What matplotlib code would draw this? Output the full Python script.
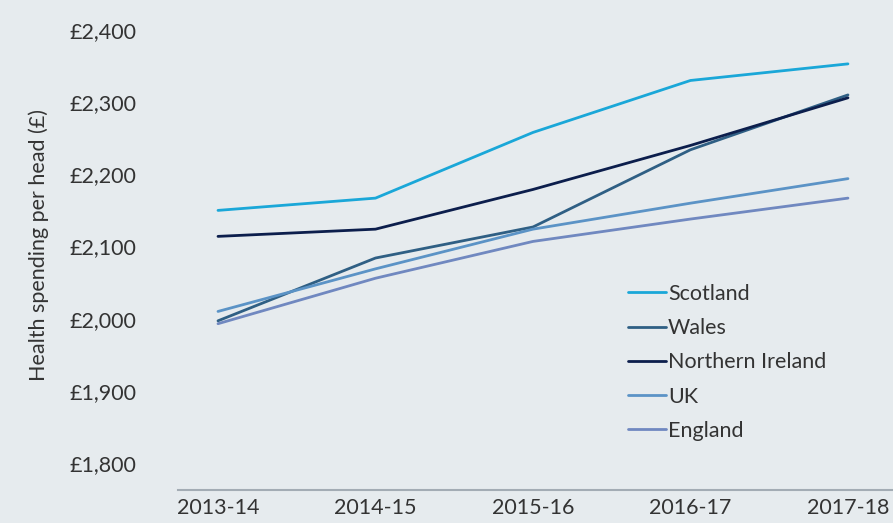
# Health spending per head across UK nations, 2013-14 to 2017-18

import matplotlib.pyplot as plt
from matplotlib.ticker import FuncFormatter

years = ["2013-14", "2014-15", "2015-16", "2016-17", "2017-18"]

scotland = [2150, 2167, 2258, 2330, 2353]
wales = [1997, 2084, 2127, 2234, 2310]
northern_ireland = [2114, 2124, 2179, 2240, 2306]
uk = [2010, 2069, 2124, 2160, 2194]
england = [1993, 2056, 2107, 2138, 2167]

series = [
    ("Scotland", scotland, "#1aa7d8"),
    ("Wales", wales, "#2f5f84"),
    ("Northern Ireland", northern_ireland, "#0c1e4c"),
    ("UK", uk, "#5b93c6"),
    ("England", england, "#7088c0"),
]

plt.rcParams["font.family"] = ["Lato", "DejaVu Sans"]
bg = "#e6ebee"
txt = "#333333"

fig = plt.figure(figsize=(8.93, 5.23), dpi=100, facecolor=bg)
ax = fig.add_axes([178 / 893, 1 - 490 / 523, 1 - 178 / 893, 490 / 523])
ax.set_facecolor(bg)

x = range(len(years))
for name, vals, col in series:
    ax.plot(x, vals, color=col, lw=2.0, label=name, solid_capstyle="round")

ax.set_xlim(-0.254, 4.286)
ax.set_ylim(1762.6, 2441.5)
ax.set_yticks([1800, 1900, 2000, 2100, 2200, 2300, 2400])
ax.yaxis.set_major_formatter(FuncFormatter(lambda v, p: f"£{v:,.0f}"))
ax.set_xticks(list(x))
ax.set_xticklabels(years)

for s in ["top", "right", "left"]:
    ax.spines[s].set_visible(False)
ax.spines["bottom"].set_color("#a3acb4")
ax.spines["bottom"].set_linewidth(1.5)

ax.tick_params(axis="both", length=0, labelsize=15.5, labelcolor=txt)
ax.tick_params(axis="x", pad=6)
ax.tick_params(axis="y", pad=78)
for lab in ax.get_yticklabels():
    lab.set_horizontalalignment("left")

ax.set_ylabel("Health spending per head (£)", fontsize=15.5, color=txt)
ax.yaxis.set_label_coords(-0.18, 0.5)

ax.legend(loc="upper left", bbox_to_anchor=(628 / 893, 1 - 284 / 523),
          bbox_transform=fig.transFigure, frameon=False, fontsize=15.5,
          handlelength=1.75, handletextpad=0.1, labelspacing=0.66, borderpad=0,
          borderaxespad=0, labelcolor=txt)

fig.savefig("out.png", dpi=100, facecolor=bg)
